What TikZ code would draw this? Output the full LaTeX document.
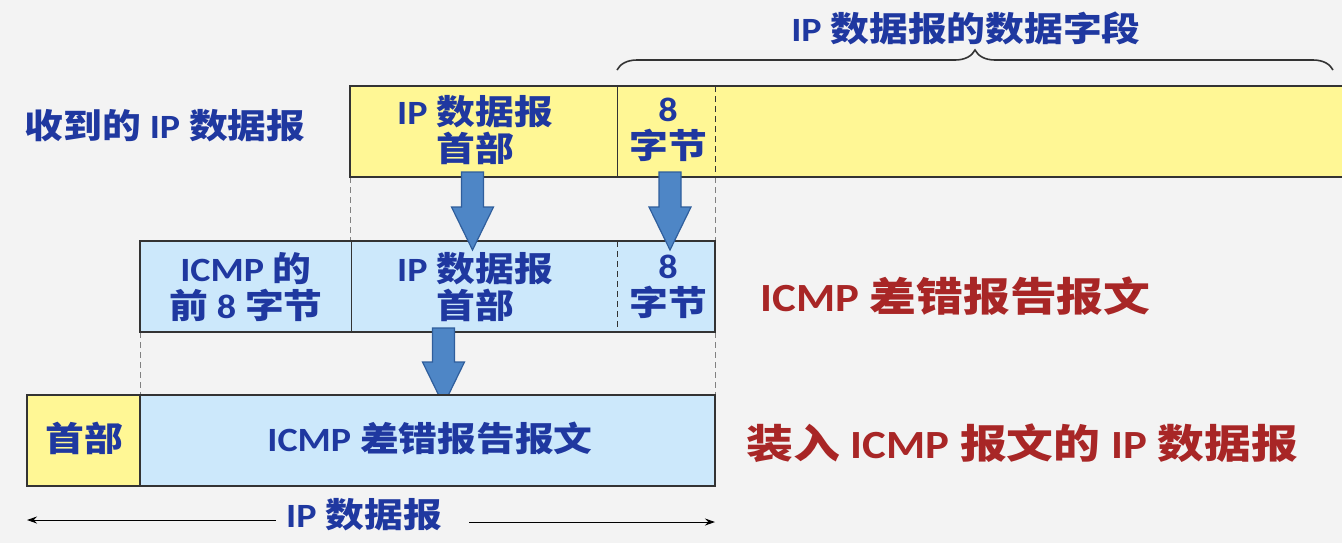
\documentclass[tikz,border=0pt]{standalone}
\usepackage{fontspec}
\setmainfont{Noto Sans CJK SC}[FakeStretch=1.14]
\newfontfamily\redfont{Noto Sans CJK SC}[FakeStretch=1.17]
\newfontfamily\lat{Carlito}[FakeStretch=1.12]
\usetikzlibrary{decorations.pathreplacing,arrows.meta,calc}
\definecolor{bgc}{HTML}{F3F3F3}
\definecolor{yel}{HTML}{FFF795}
\definecolor{lblue}{HTML}{CCE8FB}
\definecolor{tblue}{HTML}{1F38A0}
\definecolor{tred}{HTML}{A82626}
\definecolor{framec}{HTML}{333333}
\definecolor{arrfill}{HTML}{4E86C6}
\definecolor{arrdraw}{HTML}{2F5E9C}
\tikzset{
  txt/.style={font=\bfseries\fontsize{17}{18.5}\selectfont, text=tblue, align=center, inner sep=0pt},
  redtxt/.style={font=\redfont\bfseries\fontsize{20}{24}\selectfont, text=tred, anchor=west, inner sep=0pt},
  frame/.style={draw=framec, line width=1pt},
  divider/.style={draw=framec, line width=0.5pt},
  dashdiv/.style={draw=framec, line width=0.5pt, dash pattern=on 3pt off 2pt},
  guide/.style={draw=gray, line width=0.4pt, dash pattern=on 3pt off 2pt},
  fatarrow/.style={fill=arrfill, draw=arrdraw, line width=0.6pt, line join=miter},
  dimline/.style={draw=black, line width=0.5pt, -{Stealth[length=5pt,width=3.5pt]}},
}
\newcommand\fatarr[4]{%
  \draw[fatarrow] (#1-11,#2) -- (#1+11,#2) -- (#1+11,#3) -- (#1+21,#3) -- (#1,#4)
    -- (#1-21,#3) -- (#1-11,#3) -- cycle;}
\begin{document}
\begin{tikzpicture}[x=0.5pt,y=-0.5pt]
\useasboundingbox (0,0) rectangle (1342,543);
\fill[bgc] (0,0) rectangle (1342,543);

% guides
\draw[guide] (350,177) -- (350,241);
\draw[guide] (715,177) -- (715,241);
\draw[guide] (140,332) -- (140,395);
\draw[guide] (715,332) -- (715,395);

% top row: received IP datagram
\fill[yel] (350,86) rectangle (1342,177);
\draw[frame] (1342,86) -- (350,86) -- (350,177) -- (1342,177);
\draw[divider] (617,86) -- (617,177);
\draw[dashdiv] (715,86) -- (715,177);
\node[txt] (r1a) at (475,130) {{\lat IP} 数据报\\首部};
\node[txt] (r1b) at (668,130) {{\lat 8}\\字节};
\node[txt, anchor=center] (lblrecv) at (165,126) {收到的 {\lat IP} 数据报};

% brace
\draw[decorate, decoration={brace, amplitude=10pt}, line width=0.8pt, draw=framec]
  (617,70) -- (1333,70);
\node[txt] (lbldata) at (966,28) {{\lat IP} 数据报的数据字段};

% middle row: ICMP error message
\fill[lblue] (140,241) rectangle (715,332);
\draw[frame] (140,241) rectangle (715,332);
\draw[divider] (351,241) -- (351,332);
\draw[dashdiv] (617,241) -- (617,332);
\node[txt] (r2a) at (246,287) {{\lat ICMP} 的\\前 {\lat 8} 字节};
\node[txt] (r2b) at (475,287) {{\lat IP} 数据报\\首部};
\node[txt] (r2c) at (668,287) {{\lat 8}\\字节};
\node[redtxt] (lblicmp) at (760,296) {{\lat ICMP} 差错报告报文};

% arrows
\fatarr{472.5}{172}{207}{250}
\fatarr{670}{172}{207}{250}
\fatarr{443.5}{328}{362}{405}

% bottom row
\fill[yel] (27,395) rectangle (140,486);
\fill[lblue] (140,395) rectangle (715,486);
\draw[frame] (27,395) rectangle (715,486);
\draw[frame] (140,395) -- (140,486);
\node[txt] (r3a) at (84.5,438) {首部};
\node[txt] (r3b) at (430,438) {{\lat ICMP} 差错报告报文};
\node[redtxt] (lblwrap) at (746,443) {装入 {\lat ICMP} 报文的 {\lat IP} 数据报};

% dimension line
\node[txt] (lbldim) at (364,515) {{\lat IP} 数据报};
\coordinate (dimL) at (27,520);
\coordinate (dimR) at (715,522);
\draw[dimline] (lbldim.west |- dimL) ++(-10,0) -- (dimL);
\draw[dimline] (lbldim.east |- dimR) ++(27,0) -- (dimR);
\end{tikzpicture}
\end{document}
